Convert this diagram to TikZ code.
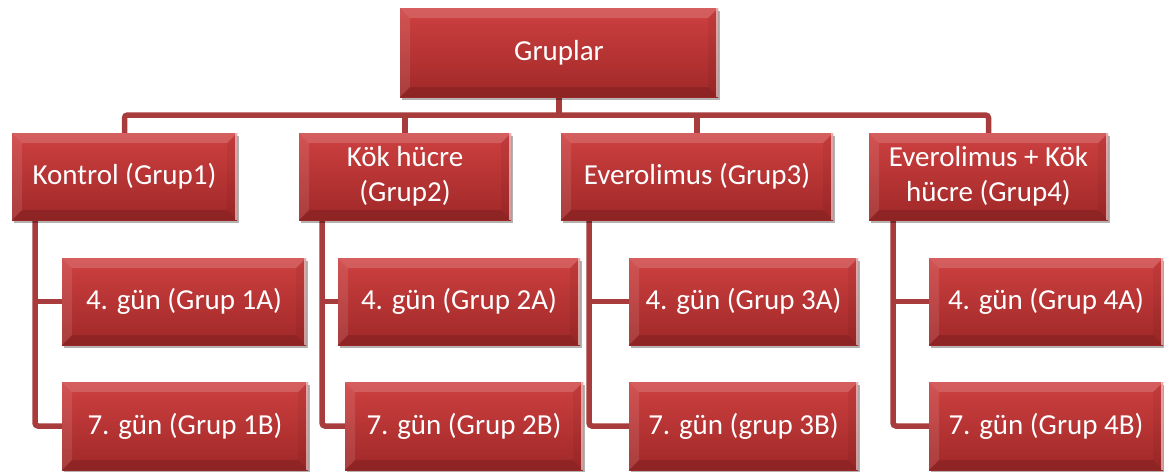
\documentclass[tikz,border=0pt]{standalone}
\usepackage{fontspec}
\setmainfont{Carlito}
\usetikzlibrary{shadows,backgrounds}
\definecolor{boxtop}{RGB}{206,64,64}
\definecolor{boxbot}{RGB}{160,40,40}
\definecolor{connc}{RGB}{168,60,60}
\tikzset{
  box/.style={rectangle, inner sep=0pt, text=white, align=center,
    font=\fontsize{29}{35}\selectfont, top color=boxtop, bottom color=boxbot,
    drop shadow={shadow xshift=2pt, shadow yshift=-3pt, opacity=0.3, fill=black},
    path picture={
      \fill[white,opacity=0.16] (path picture bounding box.north west) -- (path picture bounding box.north east)
        -- ([xshift=-10pt,yshift=-10pt]path picture bounding box.north east)
        -- ([xshift=10pt,yshift=-10pt]path picture bounding box.north west) -- cycle;
      \fill[white,opacity=0.1] (path picture bounding box.north west) -- (path picture bounding box.south west)
        -- ([xshift=10pt,yshift=10pt]path picture bounding box.south west)
        -- ([xshift=10pt,yshift=-10pt]path picture bounding box.north west) -- cycle;
      \fill[black,opacity=0.05] (path picture bounding box.north east) -- (path picture bounding box.south east)
        -- ([xshift=-10pt,yshift=10pt]path picture bounding box.south east)
        -- ([xshift=-10pt,yshift=-10pt]path picture bounding box.north east) -- cycle;
      \fill[black,opacity=0.12] (path picture bounding box.south west) -- (path picture bounding box.south east)
        -- ([xshift=-10pt,yshift=10pt]path picture bounding box.south east)
        -- ([xshift=10pt,yshift=10pt]path picture bounding box.south west) -- cycle;
      \draw[white,opacity=0.55,line width=1.5pt] ([xshift=-1pt]path picture bounding box.north east) -- ([xshift=-1pt]path picture bounding box.south east);
    }},
  conn/.style={draw=connc, line width=5.5pt},
  connr/.style={draw=connc, line width=5.5pt, rounded corners=3pt}
}
\begin{document}
\begin{tikzpicture}[x=1pt,y=-1pt]
\useasboundingbox (0,0) rectangle (1164,471);
\node[box, minimum width=318pt, minimum height=89pt] (top) at (559,52.5) {Gruplar};
\node[box, minimum width=225pt, minimum height=87pt] (k1) at (124.5,176.5) {Kontrol (Grup1)};
\node[box, minimum width=212pt, minimum height=87pt] (k2) at (405,176.5) {Kök hücre\\(Grup2)};
\node[box, minimum width=272pt, minimum height=87pt] (k3) at (697,176.5) {Everolimus (Grup3)};
\node[box, minimum width=239pt, minimum height=87pt] (k4) at (988.5,176.5) {Everolimus + Kök\\hücre (Grup4)};
\node[box, minimum width=244pt, minimum height=87pt] (a1) at (184,301.5) {4. gün (Grup 1A)};
\node[box, minimum width=246pt, minimum height=88pt] (b1) at (185,426) {7. gün (Grup 1B)};
\node[box, minimum width=242pt, minimum height=87pt] (a2) at (459,301.5) {4. gün (Grup 2A)};
\node[box, minimum width=238pt, minimum height=88pt] (b2) at (464,426) {7. gün (Grup 2B)};
\node[box, minimum width=229pt, minimum height=87pt] (a3) at (743.5,301.5) {4. gün (Grup 3A)};
\node[box, minimum width=229pt, minimum height=88pt] (b3) at (743.5,426) {7. gün (grup 3B)};
\node[box, minimum width=234pt, minimum height=87pt] (a4) at (1046,301.5) {4. gün (Grup 4A)};
\node[box, minimum width=234pt, minimum height=88pt] (b4) at (1046,426) {7. gün (Grup 4B)};
\coordinate (bus) at (0,115);
\coordinate (x1) at (35,0);
\coordinate (x2) at (322,0);
\coordinate (x3) at (589,0);
\coordinate (x4) at (893,0);
\begin{scope}[on background layer]
  \draw[connr] (k1.north) |- (k4.north |- bus) -- (k4.north);
  \draw[conn] (top.south) -- (top.south |- bus);
  \draw[conn] (k2.north) -- (k2.north |- bus);
  \draw[conn] (k3.north) -- (k3.north |- bus);
  \foreach \i in {1,2,3,4} {
    \draw[connr] (k\i.south -| x\i) |- (b\i.west);
    \draw[conn] (x\i |- a\i.west) -- (a\i.west);
  }
\end{scope}
\end{tikzpicture}
\end{document}
